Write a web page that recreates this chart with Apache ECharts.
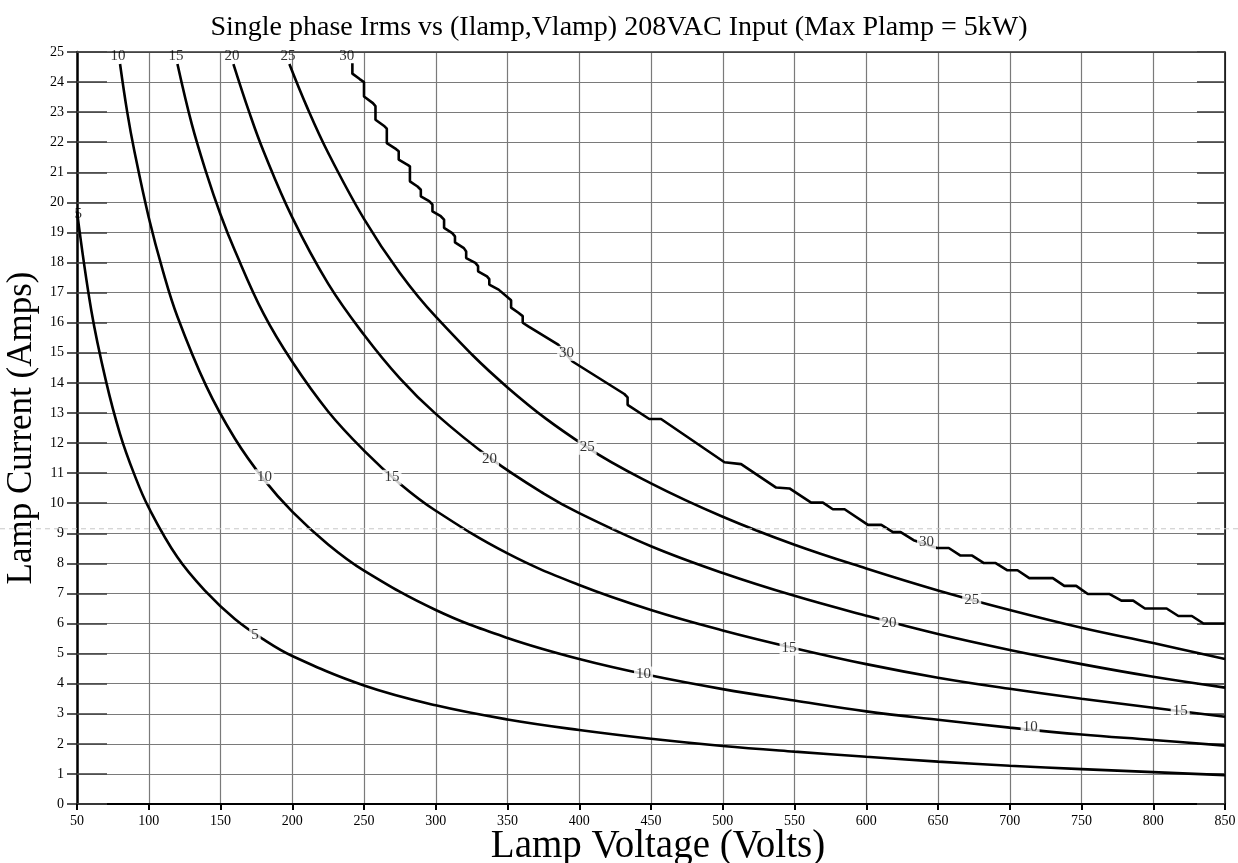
<!DOCTYPE html>
<html>
<head>
<meta charset="utf-8">
<title>Single phase Irms</title>
<script src="https://cdn.jsdelivr.net/npm/echarts@6/dist/echarts.min.js"></script>
<style>
  html, body { margin: 0; padding: 0; background: #fff; }
  #chart { width: 1238px; height: 863px; }
</style>
</head>
<body>
<div id="chart"></div>
<script>
// contour lines of input Irms (lamp volts -> lamp amps)
const irms5V = [50, 60, 70, 80, 90, 100, 120, 140, 160, 180, 200, 250, 300, 350, 400, 450, 500, 550, 600, 650, 700, 750, 800, 850]
const irms5I = [19.7, 16.4, 14.1, 12.3, 10.95, 9.85, 8.2, 7.05, 6.15, 5.47, 4.92, 3.94, 3.28, 2.81, 2.46, 2.17, 1.93, 1.74, 1.57, 1.41, 1.27, 1.16, 1.06, 0.96]

const irms10V = [80, 85, 90, 100, 110, 120, 140, 160, 180, 200, 225, 250, 300, 350, 400, 450, 500, 550, 600, 650, 700, 750, 800, 850]
const irms10I = [24.6, 23.0, 21.7, 19.5, 17.7, 16.2, 13.9, 12.15, 10.8, 9.72, 8.63, 7.76, 6.45, 5.52, 4.82, 4.27, 3.82, 3.44, 3.08, 2.8, 2.54, 2.31, 2.13, 1.94]

const irms15V = [120, 130, 140, 150, 160, 180, 200, 225, 250, 275, 300, 350, 400, 450, 500, 550, 600, 650, 700, 750, 800, 850]
const irms15I = [24.6, 22.6, 21.0, 19.6, 18.4, 16.3, 14.7, 13.05, 11.75, 10.65, 9.75, 8.33, 7.28, 6.45, 5.77, 5.18, 4.65, 4.2, 3.83, 3.5, 3.2, 2.9]

const irms20V = [159, 170, 180, 200, 225, 250, 275, 300, 338, 375, 400, 450, 500, 550, 600, 650, 700, 750, 800, 850]
const irms20I = [24.6, 23.0, 21.7, 19.5, 17.3, 15.6, 14.15, 12.97, 11.5, 10.33, 9.67, 8.57, 7.68, 6.92, 6.26, 5.65, 5.12, 4.65, 4.23, 3.87]

const irms25V = [198, 210, 225, 250, 275, 300, 350, 405, 450, 500, 550, 600, 650, 700, 750, 800, 850]
const irms25I = [24.6, 23.2, 21.65, 19.45, 17.65, 16.2, 13.85, 11.87, 10.66, 9.55, 8.62, 7.83, 7.1, 6.45, 5.86, 5.35, 4.82]

// the 30 A line is drawn stepped in the original
const irms30V = [241.9, 241.9, 247, 250, 250, 256.2, 258, 258, 264.3, 265.9, 265.9, 272.4, 274.2, 274.2, 280.4, 282, 282, 287.3, 289.6, 289.6,
  295.4, 297.7, 297.7, 303.5, 305.8, 305.8, 311.5, 313.4, 313.4, 319.6, 321.2, 321.2, 327.6, 329.5, 329.5, 335.7, 337.3, 337.3, 343.8, 350.7,
  352.5, 352.5, 357.6, 360.6, 360.6, 364.5, 385.3, 395.3, 431.4, 433.7, 433.7, 448.8, 457, 501.2, 512.8, 537.2, 546.5, 561.6, 569.8, 576.7,
  584.9, 601.2, 610.5, 618.6, 624, 633, 649.3, 657.5, 665.7, 673.8, 682, 690.2, 698.4, 705.4, 713.6, 730, 738, 746.3, 754.4, 769.6,
  777.8, 786, 794.2, 809.3, 817.5, 826.9, 835, 850]
const irms30I = [24.63, 24.28, 24.1, 24.0, 23.52, 23.3, 23.2, 22.75, 22.53, 22.45, 21.97, 21.77, 21.7, 21.42, 21.25, 21.2, 20.7, 20.53, 20.42, 20.2,
  20.04, 19.93, 19.7, 19.54, 19.43, 19.15, 18.98, 18.87, 18.67, 18.48, 18.37, 18.15, 17.99, 17.88, 17.71, 17.54, 17.45, 17.27, 17.1, 16.82,
  16.75, 16.5, 16.33, 16.22, 16.0, 15.88, 15.27, 14.71, 13.63, 13.52, 13.27, 12.8, 12.8, 11.36, 11.3, 10.52, 10.49, 10.02, 10.02, 9.8,
  9.8, 9.28, 9.28, 9.04, 9.04, 8.77, 8.51, 8.51, 8.26, 8.26, 8.01, 8.01, 7.77, 7.77, 7.51, 7.51, 7.25, 7.25, 6.98, 6.98,
  6.76, 6.76, 6.5, 6.5, 6.25, 6.25, 6.0, 6.0]

// contour labels sitting on the lines
const lineLabelV = [174, 180.7, 269.5, 337.5, 405.5, 391.2, 444.8, 546.2, 615.8, 673.5, 642, 818.8, 714.2]
const lineLabelI = [5.62, 10.88, 10.86, 11.46, 11.86, 14.98, 4.32, 5.18, 6.0, 6.78, 8.72, 3.1, 2.55]
const lineLabelText = ['5', '10', '15', '20', '25', '30', '10', '15', '20', '25', '30', '15', '10']

// labels along the top edge
const topLabelV = [50.8, 78.5, 119, 158, 197, 238]
const topLabelI = [19.6, 24.87, 24.87, 24.87, 24.87, 24.87]
const topLabelText = ['5', '10', '15', '20', '25', '30']

const cursorLineI = 9.15

const serif = '"Liberation Serif", "DejaVu Serif", serif'

const zip = (xs, ys) => xs.map((x, i) => [x, ys[i]])
const zip3 = (xs, ys, ts) => xs.map((x, i) => [x, ys[i], ts[i]])

const contourSeries = (data, smooth) => ({
  type: 'line',
  data: data,
  smooth: smooth,
  symbol: 'none',
  lineStyle: { color: '#000', width: 2.6 },
  z: 3,
  animation: false
})

const labelSeries = (data, withBg) => ({
  type: 'scatter',
  data: data,
  symbolSize: 1,
  itemStyle: { color: 'rgba(0,0,0,0)' },
  z: 5,
  clip: false,
  silent: true,
  label: {
    show: true,
    position: 'inside',
    formatter: (p) => p.value[2],
    fontFamily: serif,
    fontSize: 15,
    color: '#000',
    backgroundColor: withBg ? '#fff' : 'transparent',
    padding: withBg ? [0, 2] : 0
  },
  animation: false
})

const chart = echarts.init(document.getElementById('chart'))

const option = {
  backgroundColor: '#fff',
  animation: false,
  title: {
    text: 'Single phase Irms vs (Ilamp,Vlamp) 208VAC Input (Max Plamp = 5kW)',
    left: 'center',
    top: 9,
    textStyle: { fontFamily: serif, fontSize: 28, fontWeight: 'normal', color: '#000' }
  },
  grid: { left: 77, right: 13, top: 52, bottom: 59, containLabel: false, outerBoundsMode: 'none' },
  xAxis: [{
    type: 'value',
    min: 50,
    max: 850,
    interval: 50,
    name: 'Lamp Voltage (Volts)',
    nameLocation: 'middle',
    nameGap: 23,
    nameMoveOverlap: false,
    nameTextStyle: { fontFamily: serif, fontSize: 39, color: '#000', padding: [0, 0, 0, 14] },
    axisLine: { show: true, onZero: false, lineStyle: { color: '#000', width: 2 } },
    axisTick: { show: true, length: 6, lineStyle: { color: '#000', width: 2 } },
    axisLabel: { fontFamily: serif, fontSize: 14, color: '#000', margin: 10 },
    splitLine: { show: true, lineStyle: { color: '#7a7a7a', width: 1.2 } }
  }, {
    type: 'value',
    position: 'top',
    min: 50,
    max: 850,
    interval: 50,
    axisLine: { show: true, onZero: false, lineStyle: { color: '#333', width: 1.5 } },
    axisTick: { show: false },
    axisLabel: { show: false },
    splitLine: { show: false }
  }],
  yAxis: [{
    type: 'value',
    min: 0,
    max: 25,
    interval: 1,
    name: 'Lamp Current (Amps)',
    nameLocation: 'middle',
    nameGap: 38,
    nameTextStyle: { fontFamily: serif, fontSize: 35, color: '#000' },
    axisLine: { show: true, onZero: false, lineStyle: { color: '#000', width: 2.5 } },
    axisTick: { show: true, length: 10, lineStyle: { color: '#222', width: 1.5 } },
    axisLabel: { fontFamily: serif, fontSize: 14, color: '#000', margin: 13 },
    splitLine: { show: true, lineStyle: { color: '#7a7a7a', width: 1.2 } }
  }, {
    // darker inside stubs on the left
    type: 'value',
    position: 'left',
    min: 0,
    max: 25,
    interval: 1,
    axisLine: { show: false },
    axisTick: { show: true, inside: true, length: 30, lineStyle: { color: '#444', width: 1.6 } },
    axisLabel: { show: false },
    splitLine: { show: false }
  }, {
    type: 'value',
    position: 'right',
    min: 0,
    max: 25,
    interval: 1,
    axisLine: { show: true, onZero: false, lineStyle: { color: '#000', width: 1.5 } },
    axisTick: { show: true, inside: true, length: 28, lineStyle: { color: '#444', width: 1.6 } },
    axisLabel: { show: false },
    splitLine: { show: false }
  }],
  series: [
    contourSeries(zip(irms5V, irms5I), 0.4),
    contourSeries(zip(irms10V, irms10I), 0.4),
    contourSeries(zip(irms15V, irms15I), 0.4),
    contourSeries(zip(irms20V, irms20I), 0.4),
    contourSeries(zip(irms25V, irms25I), 0.4),
    contourSeries(zip(irms30V, irms30I), false),
    labelSeries(zip3(lineLabelV, lineLabelI, lineLabelText), true),
    labelSeries(zip3(topLabelV, topLabelI, topLabelText), false)
  ]
}

chart.setOption(option)

// faint dashed cursor line across the whole window
const cursorY = chart.convertToPixel({ yAxisIndex: 0 }, cursorLineI)
chart.setOption({
  graphic: [{
    type: 'line',
    shape: { x1: 0, y1: cursorY, x2: chart.getWidth(), y2: cursorY },
    style: { stroke: '#c8c8c8', lineWidth: 1, lineDash: [5, 4] },
    z: 10,
    silent: true
  }]
})
</script>
</body>
</html>
